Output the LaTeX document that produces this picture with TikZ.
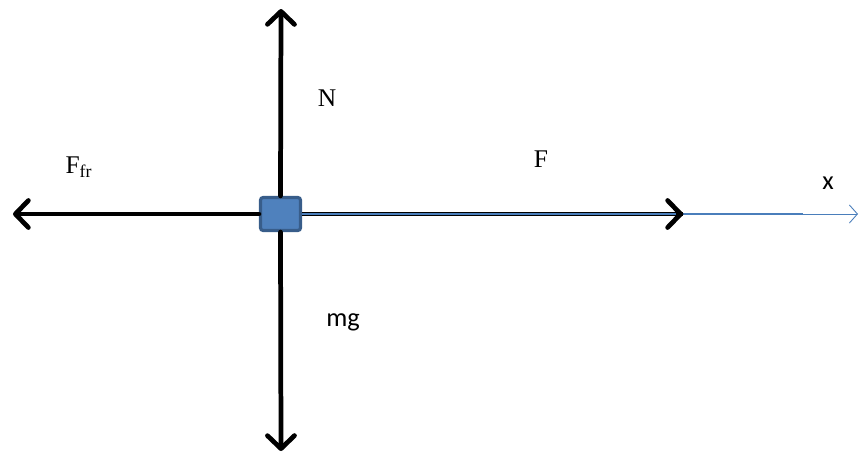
\documentclass[tikz,border=0pt]{standalone}
\usepackage{fontspec}
\setmainfont{Liberation Serif}
\newfontfamily\calibri{Carlito}
\usepackage{tikz}
\usetikzlibrary{arrows.meta,positioning,calc}
\usepackage{xcolor}
\definecolor{blkfill}{HTML}{4F81BD}
\definecolor{blkedge}{HTML}{385D8A}
\definecolor{axisblue}{HTML}{4A7EBB}
\tikzset{
  force/.style={line width=2.7pt,line cap=round,-{Straight Barb[length=2.6mm,width=5.4mm,line cap=round,line join=round]}},
  serlabel/.style={font=\fontsize{14.5}{16}\selectfont,inner sep=0pt},
  sanslabel/.style={font=\calibri\fontsize{15}{18}\selectfont,inner sep=0pt}
}

\begin{document}
\begin{tikzpicture}[x=0.02cm,y=-0.02cm]
\useasboundingbox (0,0) rectangle (859,461);
% block
\node[draw=blkedge,line width=1.8pt,fill=blkfill,rounded corners=1.5pt,minimum width=0.8cm,minimum height=0.66cm,inner sep=0pt] (blk) at (280.5,214) {};
\coordinate (upend) at (281,9);
\coordinate (downend) at (281,451);
\coordinate (leftend) at (13,214);
\coordinate (fend) at (683,214);
\coordinate (xmid) at (803,214);
\coordinate (xend) at (858,214);
% forces
\draw[force] (blk.north) -- (upend);
\draw[force] (blk.south) -- (downend);
\draw[force] (blk.west) -- (leftend);
\draw[axisblue,line width=1.1pt] (fend) -- (xmid);
\draw[axisblue,line width=0.5pt,-{Straight Barb[length=1.6mm,width=3.6mm]}] (xmid) -- (xend);
\draw[black,line width=0.55pt,double=axisblue,double distance=1.4pt] (blk.east) -- (fend);
\draw[force] ($(fend)+(-2,0)$) -- (fend);
% labels
\node[serlabel] (nlbl) at (327,98) {N};
\node[serlabel] (flbl) at (541,159) {F};
\node[serlabel] (fflbl) at (79,167) {F\textsubscript{fr}};
\node[sanslabel] (mglbl) at (343,322) {mg};
\node[sanslabel] (xlbl) at (828,183) {x};
\end{tikzpicture}
\end{document}
